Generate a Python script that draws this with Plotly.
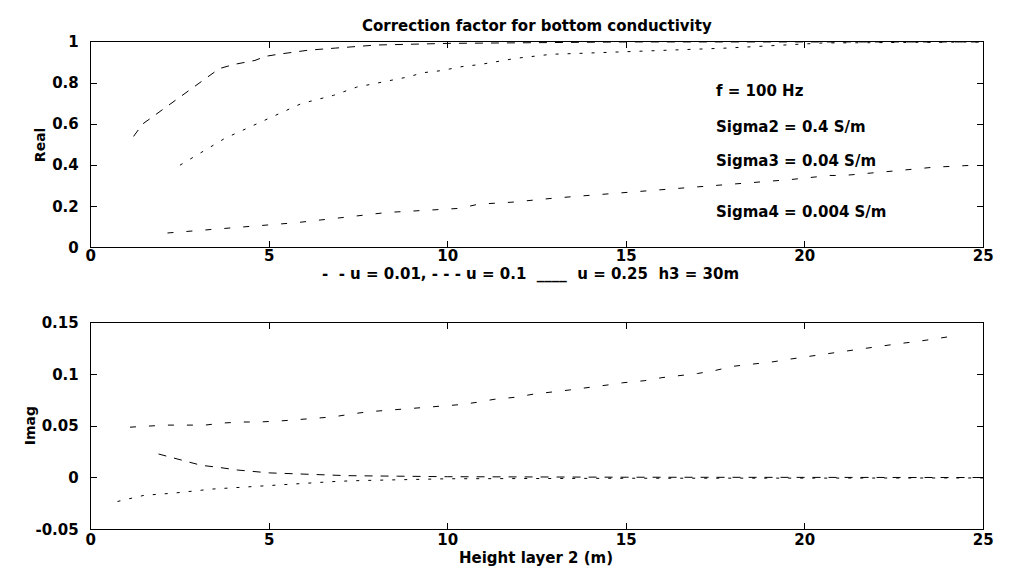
import plotly.graph_objects as go

# ---- data ----
x_real_u025 = [1.2, 1.45, 3.6, 4.0, 4.6, 4.9, 5.25, 6.1, 6.85, 8.0, 10.0, 12.0, 15.0, 20.0, 25.0]
real_u025 = [0.54, 0.60, 0.87, 0.89, 0.91, 0.93, 0.94, 0.96, 0.97, 0.985, 0.993, 0.997, 1.0, 1.0, 1.0]

x_real_u01 = [2.5, 3.75, 5.9, 6.8, 7.45, 8.9, 9.3, 9.8, 10.4, 10.9, 11.9, 12.9, 13.8, 14.6, 16.05, 17.8, 20.5, 25.0]
real_u01 = [0.40, 0.53, 0.70, 0.74, 0.78, 0.83, 0.85, 0.86, 0.88, 0.89, 0.92, 0.94, 0.945, 0.95, 0.96, 0.97, 0.995, 1.0]

x_real_u001 = [2.15, 4.3, 5.75, 7.3, 8.3, 9.35, 10.35, 10.85, 11.8, 13.0, 14.45, 15.0, 16.6, 17.5,
               18.85, 19.6, 20.7, 21.1, 22.7, 23.6, 24.75]
real_u001 = [0.07, 0.10, 0.12, 0.15, 0.17, 0.18, 0.19, 0.21, 0.22, 0.24, 0.26, 0.265, 0.29, 0.30,
             0.32, 0.33, 0.35, 0.35, 0.375, 0.39, 0.40]

x_imag_u001 = [1.1, 2.1, 3.2, 3.7, 4.2, 4.7, 5.3, 5.7, 6.8, 7.35, 7.8, 9.3, 10.4, 10.8, 11.3, 11.9,
               12.4, 13.4, 13.9, 14.5, 14.9, 15.5, 16.0, 16.5, 17.0, 17.5, 18.0, 18.5, 19.05, 19.6,
               20.05, 20.6, 22.65, 23.15, 24.3]
imag_u001 = [0.049, 0.051, 0.051, 0.053, 0.054, 0.054, 0.055, 0.056, 0.059, 0.062, 0.064, 0.068, 0.071,
             0.073, 0.076, 0.078, 0.081, 0.085, 0.087, 0.090, 0.092, 0.094, 0.097, 0.099, 0.101, 0.104,
             0.108, 0.110, 0.112, 0.115, 0.117, 0.120, 0.130, 0.132, 0.138]

x_imag_u025 = [1.9, 2.25, 3.1, 3.6, 4.1, 5.0, 5.5, 6.05, 7.2, 8.6, 10.0, 15.0, 20.0, 25.0]
imag_u025 = [0.023, 0.020, 0.012, 0.010, 0.0075, 0.0047, 0.004, 0.003, 0.002, 0.0015, 0.001, 0.0005, 0.0003, 0.0002]

x_imag_u01 = [0.75, 1.5, 1.9, 2.3, 3.4, 4.3, 5.25, 5.7, 6.15, 6.9, 7.6, 8.3, 8.6, 10.0, 15.0, 20.0, 25.0]
imag_u01 = [-0.023, -0.017, -0.016, -0.015, -0.011, -0.009, -0.0065, -0.006, -0.0048, -0.0035, -0.0027,
            -0.002, -0.002, -0.001, -0.0005, -0.0003, -0.0002]

x_ticks = [0, 5, 10, 15, 20, 25]
real_ticks = [0, 0.2, 0.4, 0.6, 0.8, 1]
real_ticklabels = ["0", "0.2", "0.4", "0.6", "0.8", "1"]
imag_ticks = [-0.05, 0, 0.05, 0.1, 0.15]
imag_ticklabels = ["-0.05", "0", "0.05", "0.1", "0.15"]

title_text = "Correction factor for bottom conductivity"
legend_text = "-  - u = 0.01, - - - u = 0.1  ____  u = 0.25  h3 = 30m"
xlabel_text = "Height layer 2 (m)"
info_texts = ["f = 100 Hz", "Sigma2 = 0.4 S/m", "Sigma3 = 0.04 S/m", "Sigma4 = 0.004 S/m"]
info_y = [0.76, 0.585, 0.42, 0.17]

FONT = "DejaVu Sans"
W, H = 1009, 580

fig = go.Figure()

line_u001 = dict(color="black", width=1, dash="6px,13px")
line_u01 = dict(color="black", width=1, dash="3px,9px")
line_u025 = dict(color="black", width=1, dash="8px,8px")

fig.add_trace(go.Scatter(x=x_real_u001, y=real_u001, mode="lines", line=line_u001, xaxis="x", yaxis="y"))
fig.add_trace(go.Scatter(x=x_real_u01, y=real_u01, mode="lines", line=line_u01, xaxis="x", yaxis="y"))
fig.add_trace(go.Scatter(x=x_real_u025, y=real_u025, mode="lines", line=line_u025, xaxis="x", yaxis="y"))

fig.add_trace(go.Scatter(x=x_imag_u001, y=imag_u001, mode="lines", line=line_u001, xaxis="x2", yaxis="y2"))
fig.add_trace(go.Scatter(x=x_imag_u01, y=imag_u01, mode="lines", line=line_u01, xaxis="x2", yaxis="y2"))
fig.add_trace(go.Scatter(x=x_imag_u025, y=imag_u025, mode="lines", line=line_u025, xaxis="x2", yaxis="y2"))

xdom = [87 / W, 993 / W]
top_dom = [(H - 246) / H, (H - 34) / H]
bot_dom = [(H - 537) / H, (H - 324) / H]

tickfont = dict(family=FONT, size=15, color="black", weight="bold")
axis_common = dict(showline=True, linecolor="black", linewidth=1, mirror="allticks",
                   ticks="inside", ticklen=6, tickcolor="black", showgrid=False, zeroline=False,
                   tickfont=tickfont)

fig.update_layout(
    width=W, height=H,
    margin=dict(l=0, r=0, t=0, b=0),
    paper_bgcolor="white", plot_bgcolor="white",
    showlegend=False,
    font=dict(family=FONT, size=16, color="black"),
    xaxis=dict(domain=xdom, anchor="y", range=[0, 25], tickvals=x_ticks, ticklabelstandoff=-5, **axis_common),
    yaxis=dict(domain=top_dom, anchor="x", range=[0, 1], tickvals=real_ticks,
               ticktext=real_ticklabels, ticklabelstandoff=8, **axis_common),
    xaxis2=dict(domain=xdom, anchor="y2", range=[0, 25], tickvals=x_ticks, ticklabelstandoff=-3, **axis_common),
    yaxis2=dict(domain=bot_dom, anchor="x2", range=[-0.05, 0.15], tickvals=imag_ticks,
                ticktext=imag_ticklabels, ticklabelstandoff=8, **axis_common),
)

bold = dict(family=FONT, size=15, color="black", weight="bold")
ann = []
ann.append(dict(text=title_text, x=540 / W, y=(H - 18) / H, xref="paper", yref="paper",
                showarrow=False, xanchor="center", yanchor="middle", font=bold))
ann.append(dict(text=legend_text, x=533 / W, y=(H - 274) / H, xref="paper", yref="paper",
                showarrow=False, xanchor="center", yanchor="middle", font=bold))
ann.append(dict(text=xlabel_text, x=539 / W, y=(H - 567) / H, xref="paper", yref="paper",
                showarrow=False, xanchor="center", yanchor="middle", font=bold))
ann.append(dict(text="Real", x=35 / W, y=(H - 140) / H, xref="paper", yref="paper", textangle=-90,
                showarrow=False, xanchor="center", yanchor="middle", font=dict(family=FONT, size=14, weight="bold")))
ann.append(dict(text="Imag", x=25 / W, y=(H - 430) / H, xref="paper", yref="paper", textangle=-90,
                showarrow=False, xanchor="center", yanchor="middle", font=dict(family=FONT, size=14, weight="bold")))
for t, yv in zip(info_texts, info_y):
    ann.append(dict(text=t, x=17.45, y=yv, xref="x", yref="y", showarrow=False,
                    xanchor="left", yanchor="middle", font=bold))
fig.update_layout(annotations=ann)

fig.write_html("out.html")
